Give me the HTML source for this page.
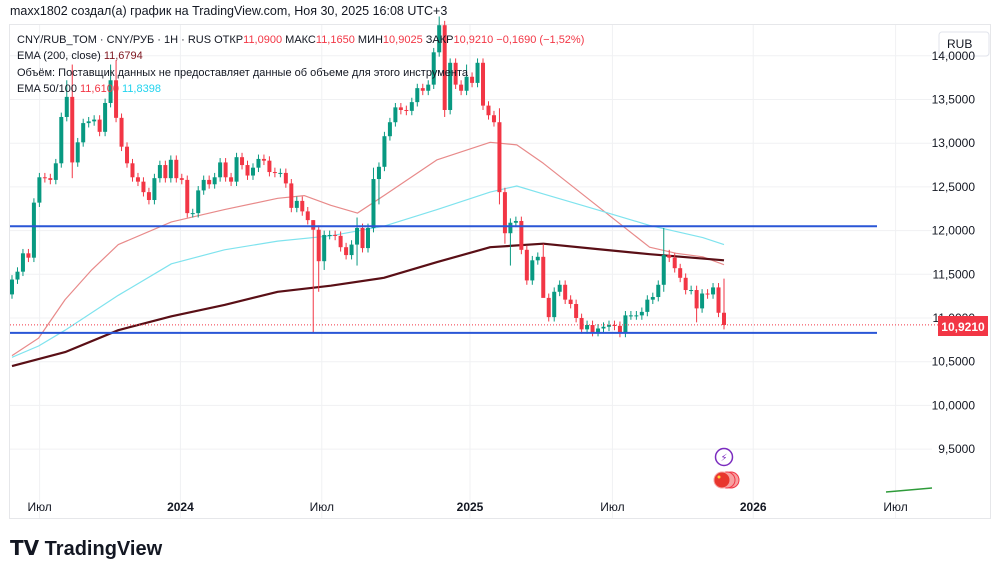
<!DOCTYPE html>
<html><head><meta charset="utf-8">
<style>
body{margin:0;width:1000px;height:575px;background:#fff;overflow:hidden;font-family:"Liberation Sans","DejaVu Sans",sans-serif;}
svg{position:absolute;left:0;top:0}
text{font-family:"Liberation Sans","DejaVu Sans",sans-serif}
</style></head><body>
<svg id="c" width="1000" height="575">
<text x="10" y="15" font-size="12.5" fill="#131722">maxx1802 создал(а) график на TradingView.com, Ноя 30, 2025 16:08 UTC+3</text>
<rect x="9.5" y="24.5" width="981" height="494" fill="none" stroke="#e6e7ea"/>
<g id="grid"></g><g id="ema"></g><g id="candles"></g><g id="levels"></g>
<g font-size="11" fill="#131722">
<text x="17" y="43">CNY/RUB_TOM · CNY/РУБ · 1H · RUS  ОТКР<tspan fill="#f23645">11,0900</tspan>  МАКС<tspan fill="#f23645">11,1650</tspan>  МИН<tspan fill="#f23645">10,9025</tspan>  ЗАКР<tspan fill="#f23645">10,9210  −0,1690 (−1,52%)</tspan></text>
<text x="17" y="59">EMA (200, close)  <tspan fill="#801922">11,6794</tspan></text>
<text x="17" y="76">Объём: Поставщик данных не предоставляет данные об объеме для этого инструмента</text>
<text x="17" y="92">EMA 50/100  <tspan fill="#f23645">11,6100</tspan>  <tspan fill="#22d3ee">11,8398</tspan></text>
</g>
<rect x="939" y="32" width="50" height="24" rx="3" fill="#fff" stroke="#e0e3eb"/>
<text x="947" y="48" font-size="12" fill="#131722">RUB</text>
<g id="yaxis"></g><g id="xaxis"></g>
<rect x="938" y="316" width="50" height="20" fill="#f23645"/>
<text x="963" y="331" font-size="12" font-weight="bold" fill="#fff" text-anchor="middle">10,9210</text>
<g><circle cx="724" cy="457" r="8.5" fill="#fff" stroke="#7b2cbf" stroke-width="1.5"/><text x="724" y="461" font-size="10" fill="#7b2cbf" text-anchor="middle">⚡</text></g>
<g><circle cx="731" cy="480" r="8" fill="#f7a0a0" stroke="#f23645"/><circle cx="727" cy="480" r="8" fill="#f7a0a0" stroke="#f23645"/><circle cx="722" cy="480" r="8" fill="#e8362d" stroke="#f7a0a0"/><circle cx="719" cy="477" r="1.5" fill="#ffd43b"/></g>
<line x1="886" y1="492" x2="932" y2="488" stroke="#2e9b3a" stroke-width="1.5"/>
<g><text x="10" y="555" font-size="20" font-weight="bold" fill="#131722">𝗧𝗩 TradingView</text></g>
</svg>
<script>
const closes=[11.44,11.53,11.74,11.69,12.32,12.61,12.60,12.58,12.77,13.30,13.53,12.78,13.01,13.23,13.25,13.27,13.13,13.46,13.72,13.29,12.96,12.77,12.61,12.56,12.44,12.35,12.60,12.75,12.60,12.81,12.60,12.58,12.20,12.20,12.46,12.58,12.53,12.61,12.78,12.61,12.56,12.84,12.75,12.63,12.72,12.82,12.80,12.67,12.66,12.66,12.54,12.26,12.34,12.22,12.12,12.01,11.65,11.95,11.95,11.94,11.81,11.72,11.84,12.03,11.80,12.03,12.59,12.73,13.08,13.24,13.41,13.38,13.37,13.47,13.63,13.60,13.67,14.04,14.35,13.38,13.92,13.67,13.60,13.76,13.69,13.92,13.43,13.32,13.24,12.44,11.97,12.09,12.11,11.78,11.43,11.66,11.70,11.23,11.01,11.30,11.38,11.21,11.16,11.00,10.87,10.92,10.84,10.88,10.90,10.92,10.91,10.83,11.03,11.03,11.03,11.07,11.21,11.24,11.38,11.72,11.69,11.57,11.46,11.32,11.32,11.11,11.28,11.27,11.35,11.06,10.92];
const firstOpen=11.27;
const highOverrides={10:13.72,11:13.9,18:13.9,19:13.95,55:12.12,63:12.15,66:12.72,78:14.45,79:14.4,83:13.9,89:13.4,97:11.85,119:12.03,120:11.78,130:11.45};
const lowOverrides={0:11.22,11:12.6,55:10.83,56:11.3,57:11.55,63:11.6,67:12.3,79:13.3,89:12.3,90:11.85,91:11.6,97:11.25,111:10.78,119:11.3,125:10.95,134:10.9};
const emaIdx=[0,5,10,15,20,30,40,50,55,60,65,70,80,90,95,100,110,120,125,130,134];
const ema50=[10.57,10.77,11.21,11.55,11.84,12.10,12.24,12.37,12.40,12.29,12.20,12.40,12.81,13.01,12.98,12.77,12.29,11.81,11.74,11.70,11.61];
const ema100Idx=[0,5,10,20,30,40,50,60,70,80,90,95,100,110,120,130,134];
const ema100=[10.55,10.68,10.86,11.26,11.62,11.78,11.88,11.94,12.05,12.24,12.44,12.51,12.42,12.24,12.06,11.92,11.84];
const ema200Idx=[0,10,20,30,40,50,60,70,80,90,100,110,120,134];
const ema200=[10.45,10.61,10.86,11.02,11.15,11.30,11.37,11.46,11.64,11.81,11.85,11.79,11.73,11.66];
const yTicks=[14,13.5,13,12.5,12,11.5,11,10.5,10,9.5];
const xTickLabels=["Июл","2024","Июл","2025","Июл","2026","Июл"];
const xTickIdx=[5.2,31.7,58.3,86.2,113.0,139.5,166.3];
const levels=[12.05,10.83];
const lastPrice=10.921;

const NS="http://www.w3.org/2000/svg";
const Y=v=>318-(v-11)*87.4;
const X=i=>12+i*712/134;
const XC=i=>X(i*134/(closes.length-1));
function mk(p,tag,a){const e=document.createElementNS(NS,tag);for(const k in a)e.setAttribute(k,a[k]);document.getElementById(p).appendChild(e);return e;}
yTicks.forEach(v=>{
 const g=mk('grid','line',{x1:10,x2:932,y1:Y(v),y2:Y(v),stroke:'#f0f1f3'});
 
 
 const t=mk('yaxis','text',{x:975,y:Y(v)+4,'font-size':12,fill:'#131722','text-anchor':'end'});
 t.textContent=v.toFixed(4).replace('.',',');
 
 
});
xTickIdx.forEach((ix,k)=>{
 const g=mk('grid','line',{x1:X(ix),x2:X(ix),y1:25,y2:518,stroke:'#f0f1f3'});
 
 
 const lab=xTickLabels[k];
 const t=mk('xaxis','text',{x:X(ix),y:511,'font-size':12,fill:'#131722','text-anchor':'middle','font-weight':/^\d/.test(lab)?'bold':'normal'});
 t.textContent=lab;
 
 
});
function line(idx,vals,color,w,name){
 const pts=idx.map((ix,k)=>X(ix).toFixed(1)+','+Y(vals[k]).toFixed(1)).join(' ');
 const p=mk('ema','polyline',{points:pts,fill:'none',stroke:color,'stroke-width':w,'stroke-linejoin':'round'});
 
 
}
line(emaIdx,ema50,'#e88a8a',1.2,'ema-50-line');
line(ema100Idx,ema100,'#7fe3ee',1.2,'ema-100-line');
line(ema200Idx,ema200,'#5a0f16',2.2,'ema-200-line');
closes.forEach((c,i)=>{
 const o=i?closes[i-1]:firstOpen;
 const up=c>=o,col=up?'#089981':'#f23645';
 const h=highOverrides[i]!==undefined?highOverrides[i]:Math.max(o,c)+0.05;
 const l=lowOverrides[i]!==undefined?lowOverrides[i]:Math.min(o,c)-0.05;
 const w=mk('candles','line',{x1:XC(i),x2:XC(i),y1:Y(h),y2:Y(l),stroke:col,'stroke-width':1});
 
 
 const top=Y(Math.max(o,c)),bh=Math.max(1,Math.abs(Y(o)-Y(c)));
 const b=mk('candles','rect',{x:XC(i)-2,y:top,width:4,height:bh,fill:col});
 
 
});
levels.forEach(v=>{
 const l=mk('levels','line',{x1:10,x2:877,y1:Y(v),y2:Y(v),stroke:'#2a56d6','stroke-width':2});
 
 
});
const pl=mk('levels','line',{x1:10,x2:938,y1:Y(lastPrice),y2:Y(lastPrice),stroke:'#f23645','stroke-width':1,'stroke-dasharray':'1,2'});


</script>
</body></html>
